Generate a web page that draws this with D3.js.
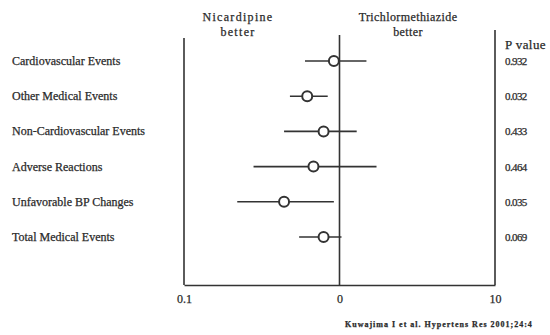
<!DOCTYPE html>
<html>
<head>
<meta charset="utf-8">
<script src="https://cdn.jsdelivr.net/npm/d3@7"></script>
<style>
  body { margin: 0; background: #fff; }
  svg text { font-family: "Liberation Serif", "Times New Roman", serif; fill: #2a2a2a; stroke: #2a2a2a; stroke-width: 0.25px; }
</style>
</head>
<body>
<div id="chart"></div>
<script>
// outcomes, top to bottom
var outcomes = ['Cardiovascular Events', 'Other Medical Events', 'Non-Cardiovascular Events',
  'Adverse Reactions', 'Unfavorable BP Changes', 'Total Medical Events'];
// relative risk point estimates and 95% CI
var estimate = [0.92, 0.62, 0.79, 0.68, 0.44, 0.79];
var ciLow    = [0.60, 0.48, 0.44, 0.28, 0.22, 0.55];
var ciHigh   = [1.49, 0.84, 1.29, 1.73, 0.92, 1.03];
var pValues  = ['0.932', '0.032', '0.433', '0.464', '0.035', '0.069'];
// axis ticks: the middle tick (RR = 1) is printed as "0" in the original
var tickValues = [0.1, 1, 10];
var tickLabels = ['0.1', '0', '10'];

var W = 550, H = 335;

var svg = d3.select('#chart').append('svg')
  .attr('width', W)
  .attr('height', H);

var x = d3.scaleLog()
  .domain([0.1, 10])
  .range([184, 495]);

var y = d3.scalePoint()
  .domain(outcomes)
  .range([61, 237]);

var bottom = 285;
var ink = '#333';

// bottom axis (domain line is the bottom of the frame)
var axis = svg.append('g')
  .attr('transform', 'translate(0,' + bottom + ')')
  .call(d3.axisBottom(x).tickValues(tickValues).tickSizeInner(0).tickSizeOuter(0)
    .tickPadding(9).tickFormat(function(d, i) { return tickLabels[i]; }));
axis.attr('font-family', null).attr('font-size', null);
axis.select('.domain').attr('stroke', ink).attr('stroke-width', 1.6);
axis.selectAll('text')
  .style('font-family', '"Liberation Serif", serif')
  .style('font-size', '12px')
  .attr('fill', ink);

// vertical lines: left frame, line of no effect, right frame
var verticals = [{v: 0.1, top: 38}, {v: 1, top: 35}, {v: 10, top: 30}];
svg.selectAll('.vline')
  .data(verticals)
  .enter().append('line')
    .attr('class', 'vline')
    .attr('x1', function(d) { return x(d.v); })
    .attr('x2', function(d) { return x(d.v); })
    .attr('y1', function(d) { return d.top; })
    .attr('y2', bottom)
    .attr('stroke', ink)
    .attr('stroke-width', 1.6);

// confidence intervals
var rows = outcomes.map(function(name, i) {
  return {name: name, est: estimate[i], lo: ciLow[i], hi: ciHigh[i], p: pValues[i]};
});

svg.selectAll('.ci')
  .data(rows)
  .enter().append('line')
    .attr('class', 'ci')
    .attr('x1', function(d) { return x(d.lo); })
    .attr('x2', function(d) { return x(d.hi); })
    .attr('y1', function(d) { return y(d.name); })
    .attr('y2', function(d) { return y(d.name); })
    .attr('stroke', ink)
    .attr('stroke-width', 1.6);

svg.selectAll('.pt')
  .data(rows)
  .enter().append('circle')
    .attr('class', 'pt')
    .attr('cx', function(d) { return x(d.est); })
    .attr('cy', function(d) { return y(d.name); })
    .attr('r', 5)
    .attr('fill', '#fff')
    .attr('stroke', ink)
    .attr('stroke-width', 2);

// row labels
svg.selectAll('.lab')
  .data(rows)
  .enter().append('text')
    .attr('class', 'lab')
    .attr('x', 12)
    .attr('y', function(d) { return y(d.name) + 4; })
    .style('font-size', '12px')
    .text(function(d) { return d.name; });

// p values
svg.append('text')
  .attr('x', 505).attr('y', 49)
  .style('font-size', '13px')
  .style('letter-spacing', '0.4px')
  .text('P value');

svg.selectAll('.pv')
  .data(rows)
  .enter().append('text')
    .attr('class', 'pv')
    .attr('x', 505)
    .attr('y', function(d) { return y(d.name) + 4; })
    .style('font-size', '11px')
    .style('letter-spacing', '-0.6px')
    .text(function(d) { return d.p; });

// direction headers
var headers = [
  {cx: 238, spacing: 1.3, lines: ['Nicardipine', 'better']},
  {cx: 408, spacing: 0.4, lines: ['Trichlormethiazide', 'better']}
];
headers.forEach(function(h) {
  h.lines.forEach(function(t, j) {
    svg.append('text')
      .attr('x', h.cx)
      .attr('y', 21 + j * 15)
      .attr('text-anchor', 'middle')
      .style('font-size', '12px')
      .style('letter-spacing', h.spacing + 'px')
      .text(t);
  });
});

// source note
svg.append('text')
  .attr('x', 345).attr('y', 327)
  .style('font-size', '8px')
  .style('font-weight', 'bold')
  .style('letter-spacing', '1px')
  .text('Kuwajima I et al. Hypertens Res 2001;24:4');
</script>
</body>
</html>
